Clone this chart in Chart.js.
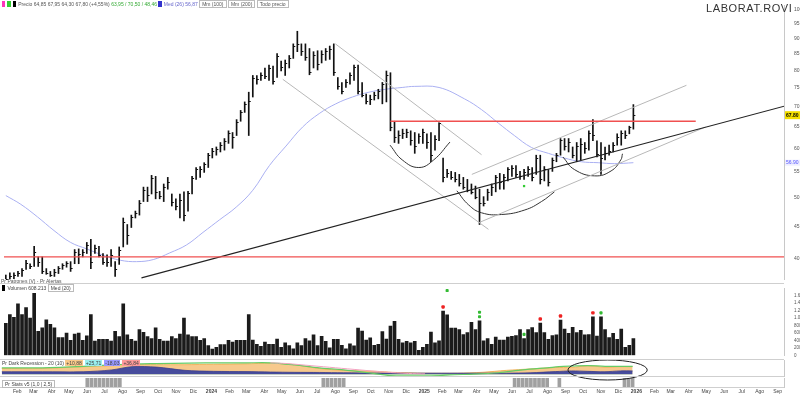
<!DOCTYPE html>
<html><head><meta charset="utf-8">
<script src="https://cdn.jsdelivr.net/npm/chart.js@4.4.1/dist/chart.umd.min.js"></script>
<style>
html,body{margin:0;padding:0;background:#fff;overflow:hidden}
#wrap{position:relative;width:800px;height:395px;background:#fff;font-family:"Liberation Sans",Arial,sans-serif}
canvas{position:absolute;left:0}
.t{position:absolute;white-space:nowrap;font-size:5px;line-height:6px;color:#444}
.b{display:inline-block;padding:0 1px;margin-right:2px}
</style></head><body>
<div id="wrap">
<canvas id="cp" width="800" height="284" style="top:0"></canvas>
<canvas id="cv" width="800" height="76" style="top:284px"></canvas>
<canvas id="ci" width="800" height="17" style="top:360px"></canvas>
<canvas id="cb" width="800" height="18" style="top:377px"></canvas>
<div class="t" style="left:2px;top:1px;color:#555"><span class="b" style="background:#f3b;">&nbsp;</span><span class="b" style="background:#3c3">&nbsp;</span><span class="b" style="background:#000">&nbsp;</span>Precio 64,85 67,95 64,30 67,80 (+4,55%) <span style="color:#3a3">63,95 / 70,50 / 48,46</span> <span class="b" style="background:#33c">&nbsp;</span><span style="color:#66c">Med (26) 56,87</span> <span style="border:1px solid #bbb;padding:0 2px">Mm (100)</span> <span style="border:1px solid #bbb;padding:0 2px">Mm (200)</span> <span style="border:1px solid #bbb;padding:0 2px">Todo precio</span></div>
<div class="t" style="left:706px;top:2px;font-size:11px;line-height:12px;letter-spacing:0.6px;color:#333">LABORAT.ROVI</div>
<div class="t" style="left:1px;top:278px;color:#555">Pr Patrones (V) - Pr Alertas</div>
<div class="t" style="left:2px;top:285px;color:#444"><span class="b" style="background:#000">&nbsp;</span>Volumen 608.213 <span style="border:1px solid #bbb;padding:0 2px">Med (20)</span></div>
<div class="t" style="left:2px;top:360px;color:#444">Pr Dark Recession - 20 (10) <span class="b" style="background:#f9c98a">+10,88</span><span class="b" style="background:#9ee">+25,71</span><span class="b" style="background:#99f">-18,03</span><span class="b" style="background:#f99">+36,84</span></div>
<div class="t" style="left:2px;top:380px;color:#444;border:1px solid #bbb;padding:0 2px">Pr Stats v5 (1,0 | 2,5)</div>
</div>
<script>
// ---------- DATA ----------
const priceHigh=[37.6,37.9,37.9,38.1,38.5,39.7,39.2,41.8,40.2,40.2,
38.5,38.1,38.4,38.8,39.2,39.5,39.5,41.3,41.4,41.3,
42.4,42.9,42.0,41.8,40.7,40.5,41.3,39.5,41.7,46.4,
45.3,46.9,47.6,49.5,52.0,52.0,54.3,54.1,51.2,52.6,
53.9,50.7,49.8,50.7,51.1,51.2,54.1,55.9,56.1,56.9,
58.9,60.0,60.3,61.3,62.2,64.0,63.6,66.7,69.0,71.2,
73.8,78.5,78.5,79.3,80.7,81.6,81.3,85.1,82.8,83.1,
84.5,88.2,92.4,88.2,88.2,86.7,85.7,86.0,86.0,86.7,
87.5,88.2,77.9,76.5,77.3,79.3,81.6,81.6,76.5,73.3,
73.0,73.8,74.6,76.5,79.8,79.3,66.3,64.0,64.4,64.4,
64.0,63.6,63.3,64.4,63.3,63.6,62.9,66.3,57.9,55.5,
55.1,54.9,54.5,53.9,53.5,52.6,52.2,51.6,50.2,51.6,
52.6,54.3,54.7,54.5,55.9,56.3,56.3,55.1,55.5,56.1,
55.9,58.5,58.5,56.1,55.5,57.9,58.9,62.2,62.2,62.2,
60.3,61.3,62.2,61.3,64.0,66.7,61.7,61.3,60.3,60.7,
61.3,63.3,64.0,64.0,65.1,70.5];
const priceLow=[36.1,36.4,36.8,37.4,37.4,38.4,38.5,38.8,38.8,37.8,
37.7,37.4,37.4,37.8,38.4,38.7,38.1,39.2,39.2,40.2,
40.7,38.5,40.7,40.2,39.1,38.8,38.8,37.4,39.1,41.7,
42.1,44.8,46.4,46.9,49.3,49.3,50.7,49.8,49.8,49.3,
51.6,48.5,47.8,46.4,45.9,47.6,50.7,53.5,53.9,54.9,
55.9,57.9,58.5,59.2,59.6,61.1,60.0,62.9,66.3,68.5,
62.9,72.5,76.0,77.1,77.6,77.1,76.0,77.9,79.8,78.5,
80.7,83.6,85.7,84.5,83.0,78.7,80.7,80.1,82.2,83.0,
83.3,78.5,74.6,73.3,75.1,76.0,77.1,73.3,72.5,70.7,
70.5,71.7,72.0,70.7,71.2,64.0,61.3,61.1,62.2,62.4,
60.7,58.9,61.1,61.1,60.0,57.1,59.6,61.7,53.0,53.9,
53.5,53.0,52.2,51.6,51.1,50.7,49.8,45.3,48.5,49.5,
50.4,51.1,51.6,51.6,53.2,54.1,53.9,53.5,53.5,54.1,
53.2,54.5,52.6,53.2,52.2,55.1,57.1,58.5,59.6,59.2,
57.9,57.1,57.5,58.9,59.6,61.7,58.1,54.5,57.5,58.5,
59.2,60.7,60.7,62.2,63.3,64.4];
const priceClose=[37.0,37.5,37.6,37.9,38.3,39.3,38.9,41.0,39.5,38.2,
37.9,37.6,38.0,38.6,39.0,39.3,38.6,40.9,40.6,41.0,
42.0,39.5,41.6,40.5,39.5,39.4,40.5,38.5,41.2,45.8,
43.5,46.5,47.3,49.0,51.5,50.5,53.8,51.0,50.4,52.0,
53.0,49.2,48.5,49.5,47.0,50.8,53.8,55.5,55.6,56.6,
58.5,59.5,59.8,60.8,61.6,63.5,62.5,66.2,68.6,70.7,
71.5,77.8,77.5,78.5,78.2,80.8,77.0,84.2,81.0,82.2,
83.8,87.5,88.0,86.0,84.0,79.5,84.5,82.0,85.0,85.8,
86.5,79.5,75.5,74.0,76.5,78.7,81.0,74.0,73.0,71.5,
72.0,73.0,74.0,76.0,78.5,65.0,62.5,63.0,63.5,63.8,
61.8,60.5,62.8,63.8,61.5,58.5,62.0,65.8,54.0,54.8,
54.0,53.5,52.8,52.0,51.5,51.0,50.2,49.0,49.0,51.0,
52.0,54.0,53.0,54.0,55.5,55.8,54.5,54.2,55.0,55.5,
54.0,57.8,53.5,55.5,53.0,57.5,58.5,61.8,60.5,61.5,
58.5,60.5,61.0,60.0,63.5,63.0,58.8,58.0,59.0,59.5,
60.8,62.5,63.5,63.0,64.8,67.8];
const volumeK=[857,1095,1023,1380,1095,1285,1000,1666,643,738,
952,833,738,476,476,595,405,571,595,405,
524,1095,381,428,428,428,381,643,500,1380,
547,428,381,690,619,500,452,738,428,381,
381,500,452,571,1000,547,500,500,405,452,
262,167,214,286,286,405,357,405,405,405,
1095,412,293,238,357,293,293,436,214,333,
262,174,333,262,452,388,547,262,507,374,
198,428,428,269,174,309,255,731,650,412,
469,269,293,635,436,785,912,428,333,374,
333,374,136,214,293,626,333,388,1190,1088,
731,731,690,555,612,888,690,928,388,452,
293,493,412,412,493,507,531,690,452,690,
745,612,864,612,428,531,547,945,707,588,
754,612,674,547,560,1031,516,1031,690,476,
588,428,707,214,269,452];
const redAlertWeeks=[108,132,137,145];
const greenAlertWeeks=[117,128,147];
const regimeWeeks=[21,22,23,24,25,26,27,28,29,79,80,81,82,83,84,126,127,128,129,130,131,132,133,134,137,153,154,155];
// 26-week average
const maWeeks=[0,3.7,7.8,11.9,16,20,24.2,28.3,32.3,36.4,40.5,44.6,48.7,52.8,56.9,61,65.1,69.2,73.3,77.4,81.5,85.6,89.7,93.8,97.9,101,107,113.3,117.5,121.7,125.6,129.8,134,137.9,142.1,146.3,150.3,155];
const maValues=[50.4,48.8,46.6,44.3,42.4,41.4,40.4,39.7,39.5,39.8,40.8,42.0,44.0,46.1,48.3,51.4,56.3,60.5,64.9,68.2,70.7,72.5,73.8,74.6,75.1,75.4,75.1,72.0,69.2,65.8,62.9,60.2,58.9,57.9,57.1,56.9,56.7,56.9];
// indicator (Dark Recession) components
const indWeeks=[0,10,20,27,32,38,45,52,60,66,72,78,84,92,96,104,112,118,124,130,136,140,144,148,152,155];
const indOrange=[0.4,0.4,0.53,0.6,0.67,0.67,0.67,0.7,0.73,0.77,0.67,0.4,0.27,0.2,0.13,0.07,0.07,0.13,0.27,0.37,0.47,0.47,0.6,0.5,0.53,0.53];
const indNavy=[0.17,0.17,0.17,0.3,0.53,0.5,0.27,0.2,0.18,0.15,0.13,0.12,0.1,0.08,0.07,0.07,0.07,0.07,0.07,0.1,0.18,0.23,0.2,0.17,0.23,0.23];
const indGreenWeeks=[0,10,20,30,38,46,54,60,66,72,78,84,90,94,98,102,106,110,116,122,128,134,138,144,150,155];
const indGreen=[0.45,0.45,0.55,0.7,0.75,0.78,0.8,0.8,0.8,0.65,0.45,0.3,0.1,-0.05,-0.2,-0.25,-0.15,-0.05,0.0,0.1,0.3,0.45,0.55,0.6,0.55,0.55];
const indPinkWeeks=[66,70,76,82,88,94,100,104];
const indPink=[0.8,0.75,0.6,0.45,0.3,0.15,0.05,0.02];
// annotation lines [week, price]
const trendBlack=[[33.5,37.2],[192.3,70.1]];
const supportRed=[[-0.5,40.2],[192.3,40.2]];
const resistRed=[[95,66.3],[170.4,66.3]];
const chanDownLow=[[68.4,77.4],[119.2,44.5]];
const chanDownHigh=[[81.4,88.2],[117.5,58.6]];
const chanUpHigh=[[115.1,54.5],[168.1,75.7]];
const chanUpLow=[[116.8,45.6],[172.8,64.9]];
const cup1=[[94.9,60.7],[97.9,57.5],[102,55.9],[105.7,57.5],[109.7,61.4]];
const cup2=[[111.4,51.3],[114.3,48.7],[117.5,47.3],[122.4,47.0],[128.2,47.8],[132.3,49.3],[135.5,51.1]];
const cup3=[[137.6,58.1],[140.4,55.5],[145.4,54.2],[149.5,55.2],[151.9,57.5],[152.3,58.8]];
const monthNames=['Ene','Feb','Mar','Abr','May','Jun','Jul','Ago','Sep','Oct','Nov','Dic'];
const priceTicks=[40,45,50,55,60,65,70,75,80,85,90,95,100];
const volTicks=[0,200,400,600,800,1000,1200,1400,1600];

// ---------- LAYOUT HELPERS ----------
const X_MIN=-0.45, X_MAX=192.2;
const FAM='"Liberation Sans", Arial, sans-serif';
const monthTicks=[];
(function(){const t0=Date.UTC(2023,0,2);
 for(let y=2023;y<=2026;y++)for(let m=0;m<12;m++){
  const d=(Date.UTC(y,m,1)-t0)/86400000/7-0.5;
  if(d>1&&d<X_MAX-0.5)monthTicks.push({value:d,label:m===0?String(y):monthNames[m],bold:m===0});
 }})();
function xAxis(){return {type:'linear',min:X_MIN,max:X_MAX,display:false,offset:false,grid:{display:false}};}
function yRight(extra){return Object.assign({position:'right',grid:{display:false},
 border:{display:true,color:'#c8c8c8',width:1},
 afterFit:s=>{s.width=16;}},extra);}
const pts=a=>a.map(p=>({x:p[0],y:p[1]}));
function lineDs(d,color,w,tension){return {type:'line',data:pts(d),borderColor:color,borderWidth:w,pointRadius:0,tension:tension||0,fill:false,yAxisID:'y',order:0};}
const hLine=(y)=>({id:'hl'+y,afterDraw(c){const g=c.ctx;g.save();g.strokeStyle='#cfcfcf';g.lineWidth=1;g.beginPath();g.moveTo(0,y+0.5);g.lineTo(784,y+0.5);g.stroke();g.restore();}});

Chart.defaults.animation=false;
Chart.defaults.font.family=FAM;

// ---------- PRICE ----------
const priceBars=priceHigh.map((h,i)=>({x:i,y:[priceLow[i],h]}));
new Chart(document.getElementById('cp'),{type:'bar',
 data:{datasets:[
  {type:'bar',data:priceBars,backgroundColor:'#111',barThickness:1,grouped:false,yAxisID:'y',order:2},
  {type:'line',data:maWeeks.map((w,i)=>({x:w,y:maValues[i]})),borderColor:'#aab0f2',borderWidth:1,pointRadius:0,tension:0.4,yAxisID:'y',order:3},
  lineDs(supportRed,'#f05050',1.3),
  lineDs(resistRed,'#f05050',1.3),
  lineDs(trendBlack,'#222',1.1),
  lineDs(chanDownLow,'#b8b8b8',1),
  lineDs(chanDownHigh,'#b8b8b8',1),
  lineDs(chanUpHigh,'#b8b8b8',1),
  lineDs(chanUpLow,'#b8b8b8',1),
  lineDs(cup1,'#333',1,0.45),
  lineDs(cup2,'#333',1,0.45),
  lineDs(cup3,'#333',1,0.45),
  {type:'scatter',data:[{x:128,y:52.2}],pointStyle:'rect',pointRadius:1.6,backgroundColor:'#3c3',borderWidth:0,yAxisID:'y'}
 ]},
 options:{responsive:false,maintainAspectRatio:false,layout:{padding:0},
  plugins:{legend:{display:false},tooltip:{enabled:false}},
  scales:{x:xAxis(),
   y:yRight({type:'logarithmic',min:37.05,max:101.8,
    afterBuildTicks:s=>{s.ticks=priceTicks.map(v=>({value:v}));},
    ticks:{color:'#555',font:{size:5},padding:2,callback:v=>String(v)}})}},
 plugins:[hLine(283),{id:'ohlc',afterDatasetsDraw(c){
   const g=c.ctx,ys=c.scales.y,meta=c.getDatasetMeta(0);g.save();g.strokeStyle='#111';g.lineWidth=1;
   meta.data.forEach((el,i)=>{const y=Math.round(ys.getPixelForValue(priceClose[i]))+0.5;g.beginPath();g.moveTo(el.x,y);g.lineTo(el.x+2,y);g.stroke();});
   const last=priceClose[priceClose.length-1];let y=ys.getPixelForValue(last);
   g.fillStyle='#f5e000';g.fillRect(785,y-4,15,8);g.fillStyle='#000';g.font='bold 5px '+FAM;g.textBaseline='middle';g.fillText(last.toFixed(2),786,y);
   const ma=maValues[maValues.length-1];y=ys.getPixelForValue(ma);
   g.fillStyle='#eef';g.fillRect(785,y-3,15,6);g.fillStyle='#55f';g.font='5px '+FAM;g.fillText(ma.toFixed(2),786,y);
   g.restore();}}]
});

// ---------- VOLUME ----------
new Chart(document.getElementById('cv'),{type:'bar',
 data:{datasets:[
  {type:'bar',data:volumeK.map((v,i)=>({x:i,y:v})),backgroundColor:'#1b1b1b',barThickness:3,grouped:false,yAxisID:'y'},
  {type:'scatter',data:redAlertWeeks.map(w=>({x:w,y:volumeK[w]+110})),pointStyle:'rectRounded',pointRadius:2,backgroundColor:'#e22',borderWidth:0,yAxisID:'y'},
  {type:'scatter',data:greenAlertWeeks.map(w=>({x:w,y:volumeK[w]+110})).concat([{x:117,y:volumeK[117]+230},{x:109,y:1740}]),pointStyle:'rectRounded',pointRadius:1.8,backgroundColor:'#3b3',borderWidth:0,yAxisID:'y'}
 ]},
 options:{responsive:false,maintainAspectRatio:false,layout:{padding:{bottom:1}},
  plugins:{legend:{display:false},tooltip:{enabled:false}},
  scales:{x:xAxis(),
   y:yRight({type:'linear',min:0,max:1790,
    afterBuildTicks:s=>{s.ticks=volTicks.map(v=>({value:v}));},
    ticks:{color:'#555',font:{size:4.5},padding:2,callback:v=>v===0?'0':(v>=1000?(v/1000).toFixed(2)+'M':v.toFixed(2)+'K')}})}},
 plugins:[hLine(75)]
});

// ---------- INDICATOR ----------
const ellipse={id:'ell',afterDraw(c,a,o){const g=c.ctx,xs=c.scales.x;const x1=xs.getPixelForValue(139.1),x2=xs.getPixelForValue(158.6);
 g.save();g.strokeStyle='#222';g.lineWidth=1;g.beginPath();g.ellipse((x1+x2)/2,o.cy,(x2-x1)/2,10,0,0,Math.PI*2);g.stroke();g.restore();}};
new Chart(document.getElementById('ci'),{type:'line',
 data:{datasets:[
  {data:indWeeks.map((w,i)=>({x:w,y:indNavy[i]})),borderColor:'#3c3f8c',backgroundColor:'#474c9c',borderWidth:0.8,fill:'origin',pointRadius:0,tension:0.3,order:1},
  {data:indWeeks.map((w,i)=>({x:w,y:indOrange[i]})),borderColor:'#f0a848',backgroundColor:'#f7c98c',borderWidth:0.8,fill:'origin',pointRadius:0,tension:0.3,order:2},
  {data:indPinkWeeks.map((w,i)=>({x:w,y:indPink[i]})),borderColor:'#f3a3c0',borderWidth:1,fill:false,pointRadius:0,tension:0.3,order:0},
  {data:indGreenWeeks.map((w,i)=>({x:w,y:indGreen[i]})),borderColor:'#66cc66',borderWidth:1.2,fill:{target:'origin',above:'rgba(0,0,0,0)',below:'#8fdc8f'},pointRadius:0,tension:0.3,order:0}
 ]},
 options:{responsive:false,maintainAspectRatio:false,layout:{padding:0},
  plugins:{legend:{display:false},tooltip:{enabled:false},ell:{cy:10}},
  scales:{x:xAxis(),
   y:yRight({type:'linear',min:-0.2,max:1.0,ticks:{display:false}})}},
 plugins:[ellipse,hLine(16)]
});

// ---------- BOTTOM + MONTH LABELS ----------
new Chart(document.getElementById('cb'),{type:'bar',
 data:{datasets:[
  {data:regimeWeeks.map(w=>({x:w,y:1})),backgroundColor:'#a0a0a0',barThickness:3,grouped:false}
 ]},
 options:{responsive:false,maintainAspectRatio:false,layout:{padding:{top:1,bottom:8}},
  plugins:{legend:{display:false},tooltip:{enabled:false},ell:{cy:-7}},
  scales:{x:xAxis(),
   y:yRight({type:'linear',min:0,max:1,ticks:{display:false}})}},
 plugins:[ellipse,hLine(10),{id:'months',afterDraw(c){
  const g=c.ctx,xs=c.scales.x;g.save();g.fillStyle='#444';g.textAlign='center';g.textBaseline='middle';
  monthTicks.forEach(t=>{g.font=(t.bold?'bold ':'')+'5px '+FAM;g.fillText(t.label,xs.getPixelForValue(t.value),14.5);});
  g.restore();}}]
});
</script>
</body></html>
